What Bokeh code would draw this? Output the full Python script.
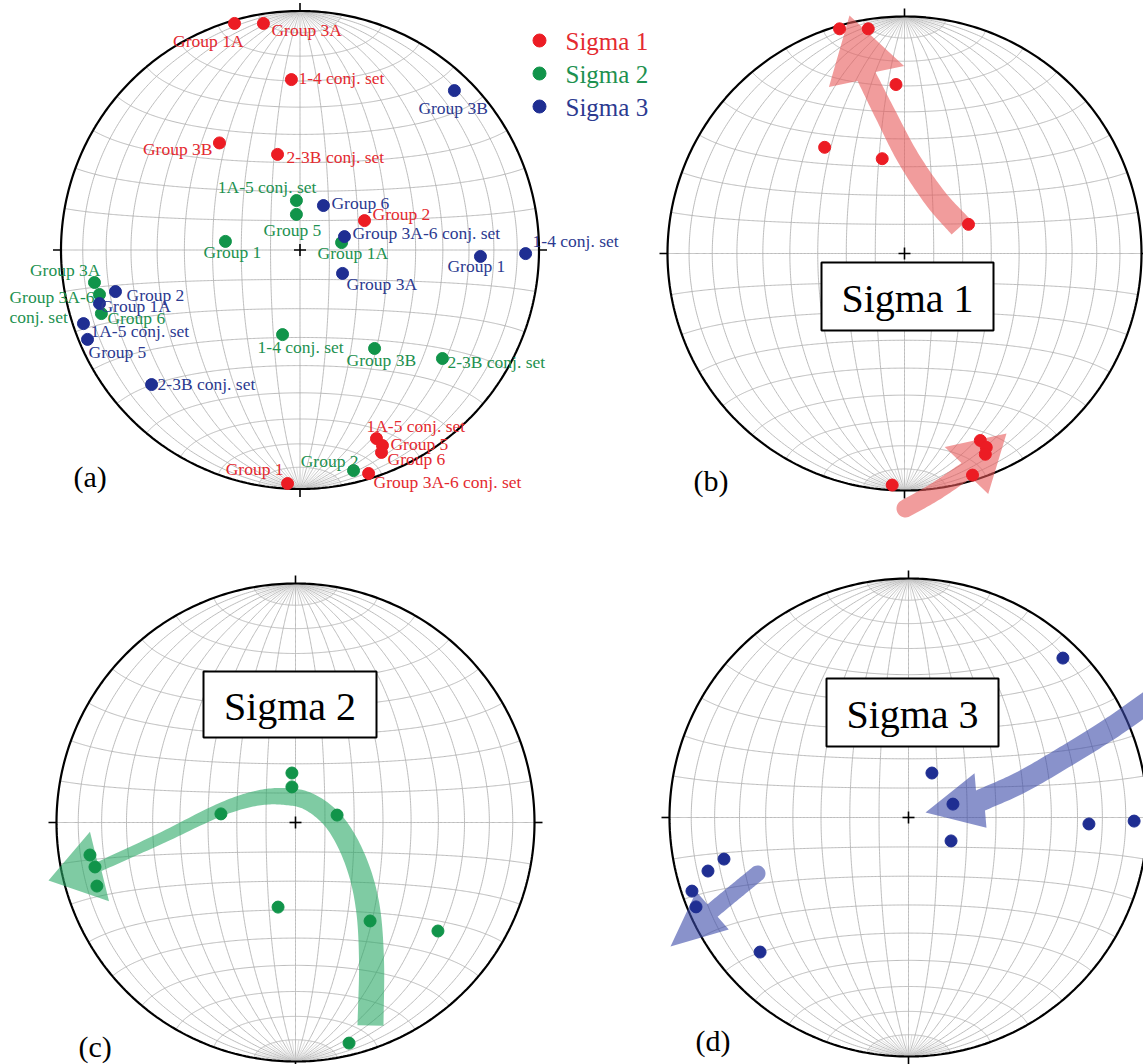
import numpy as np
from bokeh.plotting import figure
from bokeh.models import Range1d
from bokeh.core.properties import value
from bokeh.embed import file_html
from bokeh.resources import INLINE

# ---------------- DATA (lower-hemisphere positions on a unit equal-area net; x = east, y = north) ----------------
s1_names = ["Group 1A", "Group 3A", "1-4 conj. set", "Group 3B", "2-3B conj. set", "Group 2",
            "1A-5 conj. set", "Group 5", "Group 6", "Group 3A-6 conj. set", "Group 1"]
s1_x = [-0.274, -0.153, -0.036, -0.337, -0.094, 0.270, 0.320, 0.345, 0.341, 0.287, -0.052]
s1_y = [0.948, 0.948, 0.713, 0.448, 0.400, 0.123, -0.789, -0.818, -0.847, -0.935, -0.977]

s2_names = ["1A-5 conj. set", "Group 5", "Group 1", "Group 1A", "Group 3A", "Group 3A-6 conj. set",
            "Group 6", "1-4 conj. set", "Group 3B", "2-3B conj. set", "Group 2"]
s2_x = [-0.015, -0.015, -0.312, 0.174, -0.860, -0.839, -0.831, -0.073, 0.312, 0.596, 0.224]
s2_y = [0.207, 0.149, 0.036, 0.031, -0.136, -0.186, -0.266, -0.354, -0.412, -0.454, -0.923]

s3_names = ["Group 3B", "Group 6", "Group 3A-6 conj. set", "Group 1", "1-4 conj. set", "Group 3A",
            "Group 2", "Group 1A", "1A-5 conj. set", "Group 5", "2-3B conj. set"]
s3_x = [0.646, 0.098, 0.186, 0.755, 0.944, 0.178, -0.772, -0.839, -0.906, -0.889, -0.621]
s3_y = [0.667, 0.186, 0.056, -0.027, -0.015, -0.098, -0.174, -0.224, -0.308, -0.374, -0.563]

legend_labels = ["Sigma 1", "Sigma 2", "Sigma 3"]
panel_letters = ["(a)", "(b)", "(c)", "(d)"]

# ---------------- LAYOUT / STYLE ----------------
W, H = 1143, 1064
PANELS = {"a": (299.5, 249.5, 239.0), "b": (904.0, 253.0, 237.0),
          "c": (295.0, 822.0, 239.0), "d": (908.0, 817.0, 239.0)}
RED, GREEN, BLUE = "#ec1c24", "#11944a", "#1f2e92"
RED_T, GREEN_T, BLUE_T = "#e42a30", "#1d9150", "#2c3a90"
SERIF = value("Liberation Serif")
LBL_SIZE = "17.5px"

# label placement (offsets in px from the dot in panel a)
LBL1 = [(9, 18, "right"), (8, 7, "left"), (7, -2, "left"), (-7, 6, "right"), (9, 3, "left"),
        (8, -7, "left"), (-10, -13, "left"), (8, -2, "left"), (6, 7, "left"), (5, 9, "left"),
        (-4, -15, "right")]
LBL2 = [(20, -14, "right"), (-4, 16, "center"), (7, 11, "center"), (-24, 10, "left"),
        (6, -13, "right"), None, (6, 4, "left"), (-25, 12, "left"), (-28, 12, "left"),
        (5, 3, "left"), (5, -10, "right")]
LBL3 = [(-36, 17, "left"), (8, -3, "left"), (8, -4, "left"), (-33, 10, "left"), (7, -13, "left"),
        (4, 11, "left"), (11, 3, "left"), (1, 2, "left"), (7, 7, "left"), (1, 13, "left"),
        (6, -1, "left")]

p = figure(width=W, height=H, x_range=Range1d(0, W), y_range=Range1d(H, 0),
           output_backend="svg", toolbar_location=None, min_border=0,
           x_axis_type=None, y_axis_type=None)
p.outline_line_color = None
p.background_fill_color = "white"
p.border_fill_color = "white"


def to_page(key, x, y):
    cx, cy, R = PANELS[key]
    return cx + R * np.asarray(x, float), cy - R * np.asarray(y, float)


def net(key):
    cx, cy, R = PANELS[key]
    xs, ys = [], []
    phi = np.radians(np.linspace(-90, 90, 361))
    for ld in range(-80, 81, 10):
        lam = np.radians(ld)
        d = np.sqrt(1 + np.cos(phi) * np.cos(lam))
        xs.append(cx + R * np.cos(phi) * np.sin(lam) / d)
        ys.append(cy - R * np.sin(phi) / d)
    lamv = np.radians(np.linspace(-90, 90, 361))
    for pd in range(-80, 81, 10):
        ph = np.radians(pd)
        d = np.sqrt(1 + np.cos(ph) * np.cos(lamv))
        xs.append(cx + R * np.cos(ph) * np.sin(lamv) / d)
        ys.append(cy - R * np.sin(ph) / d)
    p.multi_line(xs, ys, line_color="#b4b4b4", line_width=0.9)
    # extra meridians in the polar caps
    fx, fy = [], []
    for ld in range(-85, 86, 5):
        if ld % 10 == 0:
            continue
        lam = np.radians(ld)
        for a, b in ((80, 90), (-90, -80)):
            ph = np.radians(np.linspace(a, b, 30))
            d = np.sqrt(1 + np.cos(ph) * np.cos(lam))
            fx.append(cx + R * np.cos(ph) * np.sin(lam) / d)
            fy.append(cy - R * np.sin(ph) / d)
    p.multi_line(fx, fy, line_color="#c4c4c4", line_width=0.6)
    t = np.linspace(0, 2 * np.pi, 400)
    p.line(cx + R * np.cos(t), cy + R * np.sin(t), line_color="black", line_width=2.2)
    tk = 8
    p.segment(x0=[cx, cx, cx - R - tk, cx + R, cx - 6, cx],
              y0=[cy - R - tk, cy + R, cy, cy, cy, cy - 6],
              x1=[cx, cx, cx - R, cx + R + tk, cx + 6, cx],
              y1=[cy - R, cy + R + tk, cy, cy, cy, cy + 6],
              line_color="black", line_width=1.6)


def catmull(pts, widths, n=16):
    pts = np.asarray(pts, float)
    widths = np.asarray(widths, float)
    P = np.vstack([2 * pts[0] - pts[1], pts, 2 * pts[-1] - pts[-2]])
    out, w = [], []
    for i in range(1, len(P) - 2):
        p0, p1, p2, p3 = P[i - 1], P[i], P[i + 1], P[i + 2]
        for s in np.linspace(0, 1, n, endpoint=False):
            s2, s3 = s * s, s * s * s
            out.append(0.5 * ((2 * p1) + (-p0 + p2) * s + (2 * p0 - 5 * p1 + 4 * p2 - p3) * s2
                              + (-p0 + 3 * p1 - 3 * p2 + p3) * s3))
            w.append(widths[i - 1] + (widths[i] - widths[i - 1]) * s)
    out.append(pts[-1])
    w.append(widths[-1])
    return np.array(out), np.array(w)


def arrow(pts, widths, tip, head_half, round_tail, color, alpha):
    c, w = catmull(pts, widths)
    t = np.gradient(c, axis=0)
    t /= np.linalg.norm(t, axis=1)[:, None]
    nrm = np.stack([-t[:, 1], t[:, 0]], axis=1)
    left = c + nrm * (w[:, None] / 2)
    right = c - nrm * (w[:, None] / 2)
    base = c[-1]
    tip = np.asarray(tip, float)
    hd = (tip - base) / np.linalg.norm(tip - base)
    hn = np.array([-hd[1], hd[0]])
    poly = list(left) + [base + hn * head_half, tip, base - hn * head_half] + list(right[::-1])
    if round_tail:
        r = w[0] / 2
        for s in np.linspace(0, np.pi, 20):
            poly.append(c[0] - nrm[0] * r * np.cos(s) - t[0] * r * np.sin(s))
    poly = np.array(poly)
    p.patch(poly[:, 0], poly[:, 1], fill_color=color, fill_alpha=alpha, line_color=None)


def boxed(text, x0, y0, x1, y1):
    p.quad(left=[x0], right=[x1], top=[y0], bottom=[y1], fill_color="white",
           line_color="black", line_width=2)
    p.text(x=[(x0 + x1) / 2], y=[(y0 + y1) / 2 + 2], text=[text], text_font=SERIF,
           text_font_size="40px", text_align="center", text_baseline="middle", text_color="black")


def dots(key, xs, ys, color, size=12):
    px, py = to_page(key, xs, ys)
    p.scatter(px, py, size=size, fill_color=color, line_color=color)
    return px, py


for k in "abcd":
    net(k)

# ---------------- arrows (annotations) ----------------
arrow([(960, 226), (935, 198), (908, 158), (885, 114), (866, 76)], [24, 23, 22, 21, 20],
      (849, 15), 39, False, "#e85a5a", 0.6)
arrow([(905, 508), (935, 491), (966, 470)], [18, 18, 18], (1006, 433), 32, True, "#e85a5a", 0.6)
arrow([(370, 1025), (371, 960), (367, 905), (355, 860), (335, 823), (310, 802), (285, 796),
       (255, 798), (218, 810), (160, 838), (99, 866)],
      [26, 25, 24, 22, 20, 18, 17, 15, 13, 11, 10], (48, 880), 36, False, "#2aa866", 0.6)
arrow([(1150, 700), (1110, 728), (1065, 756), (1020, 782), (980, 800)], [22, 22, 22, 22, 22],
      (925, 812), 28, True, "#3a4aa8", 0.6)
arrow([(757, 873), (735, 891), (712, 910)], [16, 16, 16], (670, 946), 25, True, "#3a4aa8", 0.6)

# ---------------- boxes ----------------
boxed(legend_labels[0], 821, 262, 993, 330)
boxed(legend_labels[1], 203, 671, 376, 737)
boxed(legend_labels[2], 826, 678, 998, 746)

# ---------------- points ----------------
g_px, g_py = dots("a", s2_x, s2_y, GREEN)
b_px, b_py = dots("a", s3_x, s3_y, BLUE)
r_px, r_py = dots("a", s1_x, s1_y, RED)
dots("b", s1_x, s1_y, RED)
dots("c", s2_x, s2_y, GREEN)
dots("d", s3_x, s3_y, BLUE)


def labels(px, py, names, spec, color):
    groups = {}
    for x, y, n, s in zip(px, py, names, spec):
        if s is None:
            continue
        dx, dy, al = s
        groups.setdefault(al, ([], [], []))
        groups[al][0].append(x + dx)
        groups[al][1].append(y + dy)
        groups[al][2].append(n)
    for al, (xs, ys, tx) in groups.items():
        p.text(x=xs, y=ys, text=tx, text_font=SERIF, text_font_size=LBL_SIZE,
               text_align=al, text_baseline="middle", text_color=color)


labels(g_px, g_py, s2_names, LBL2, GREEN_T)
i36 = s2_names.index("Group 3A-6 conj. set")
p.text(x=[g_px[i36] - 90, g_px[i36] - 90], y=[g_py[i36] + 3, g_py[i36] + 23],
       text=["Group 3A-6", "conj. set"], text_font=SERIF, text_font_size=LBL_SIZE,
       text_align="left", text_baseline="middle", text_color=GREEN_T)
labels(b_px, b_py, s3_names, LBL3, BLUE_T)
labels(r_px, r_py, s1_names, LBL1, RED_T)

# ---------------- legend ----------------
p.scatter([539, 539, 539], [40, 73, 106], size=13, fill_color=[RED, GREEN, BLUE],
          line_color=[RED, GREEN, BLUE])
p.text(x=[565, 565, 565], y=[41, 74, 107], text=legend_labels, text_font=SERIF,
       text_font_size="25px", text_align="left", text_baseline="middle",
       text_color=[RED_T, GREEN_T, BLUE_T])

# ---------------- panel letters ----------------
p.text(x=[73, 693, 78, 695], y=[476, 480, 1046, 1040], text=panel_letters, text_font=SERIF,
       text_font_size="30px", text_align="left", text_baseline="middle", text_color="black")

open("out.html", "w").write(file_html(p, INLINE))
